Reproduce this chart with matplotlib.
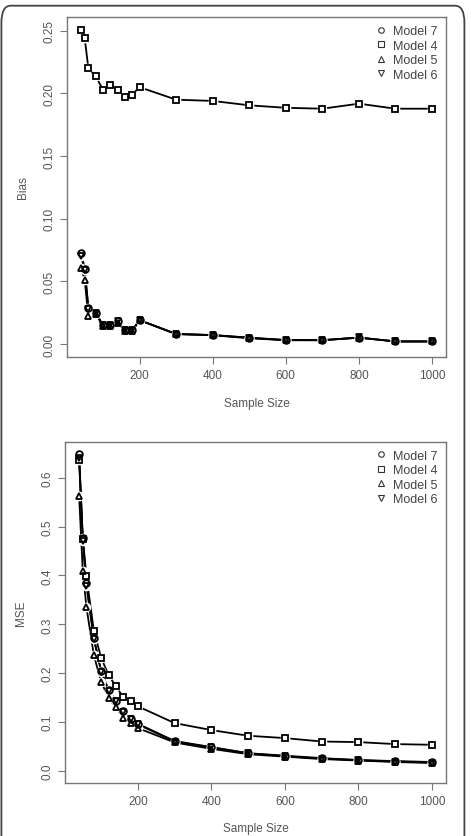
import matplotlib
matplotlib.use("Agg")
import matplotlib.pyplot as plt
from matplotlib.patches import FancyBboxPatch

plt.rcParams['font.family'] = ['Liberation Sans', 'DejaVu Sans']

# sample sizes shared by both panels
sample_size = [40, 50, 60, 80, 100, 120, 140, 160, 180, 200,
               300, 400, 500, 600, 700, 800, 900, 1000]

# Bias
bias_m7 = [0.073, 0.060, 0.029, 0.025, 0.015, 0.015, 0.018, 0.011, 0.011, 0.019,
           0.008, 0.007, 0.005, 0.003, 0.003, 0.005, 0.002, 0.002]
bias_m4 = [0.251, 0.244, 0.220, 0.2136, 0.203, 0.2064, 0.203, 0.197, 0.199, 0.205,
           0.195, 0.194, 0.1905, 0.1885, 0.1878, 0.1918, 0.1878, 0.1878]
bias_m5 = [0.061, 0.051, 0.022, 0.024, 0.014, 0.014, 0.017, 0.010, 0.010, 0.019,
           0.008, 0.007, 0.0045, 0.003, 0.003, 0.005, 0.002, 0.002]
bias_m6 = [0.070, 0.059, 0.028, 0.025, 0.015, 0.015, 0.018, 0.011, 0.011, 0.019,
           0.0078, 0.0072, 0.005, 0.0032, 0.003, 0.0052, 0.002, 0.002]

# MSE
mse_m7 = [0.648, 0.476, 0.385, 0.272, 0.205, 0.166, 0.1435, 0.1217, 0.107, 0.0963,
          0.061, 0.0486, 0.036, 0.031, 0.026, 0.022, 0.020, 0.018]
mse_m4 = [0.637, 0.475, 0.398, 0.287, 0.2316, 0.196, 0.173, 0.151, 0.142, 0.132,
          0.0977, 0.0834, 0.0718, 0.067, 0.060, 0.0588, 0.0547, 0.0533]
mse_m5 = [0.5635, 0.4086, 0.335, 0.237, 0.182, 0.1496, 0.130, 0.109, 0.0977, 0.0875,
          0.058, 0.045, 0.034, 0.029, 0.024, 0.021, 0.018, 0.016]
mse_m6 = [0.640, 0.471, 0.379, 0.270, 0.203, 0.164, 0.142, 0.120, 0.106, 0.095,
          0.060, 0.048, 0.036, 0.030, 0.025, 0.022, 0.019, 0.017]

labels = ['Model 7', 'Model 4', 'Model 5', 'Model 6']
markers = ['o', 's', '^', 'v']
gray = '#555555'

fig = plt.figure(figsize=(4.71, 8.37), dpi=100)

ax1 = fig.add_axes([0.1423, 0.5723, 0.8047, 0.4062])
ax2 = fig.add_axes([0.138, 0.0633, 0.809, 0.4078])


def draw(ax, series):
    # lines first, then white blobs to open gaps (R type="b"), then markers
    for vals in series:
        ax.plot(sample_size, vals, color='black', lw=1.3, zorder=1)
    for vals in series:
        ax.plot(sample_size, vals, ls='none', marker='o', ms=7,
                mfc='white', mec='none', zorder=2)
    for vals, m, lab in zip(series, markers, labels):
        ax.plot(sample_size, vals, ls='none', marker=m, ms=4.8,
                mfc='none', mec='black', mew=1.3, zorder=3, label=lab)
    leg_handles = [plt.Line2D([], [], ls='none', marker=m, ms=4, mfc='none',
                              mec='#333333', mew=0.8) for m in markers]
    ax.legend(leg_handles, labels, loc='upper right', frameon=False,
              fontsize=9, handletextpad=0.5, labelspacing=0.2,
              handlelength=1.0, borderaxespad=0.25, labelcolor='#444444')
    ax.set_xlim(1.6, 1038.4)
    ax.set_xticks([200, 400, 600, 800, 1000])
    for s in ax.spines.values():
        s.set_color('#777777')
        s.set_linewidth(1.0)
    ax.tick_params(colors='#777777', labelcolor=gray, labelsize=8.5,
                   length=5, width=0.8, direction='out')
    ax.set_xlabel('Sample Size', color=gray, fontsize=8.5, labelpad=12)


draw(ax1, [bias_m7, bias_m4, bias_m5, bias_m6])
ax1.set_ylim(-0.0104, 0.261)
ax1.set_yticks([0.0, 0.05, 0.10, 0.15, 0.20, 0.25])
ax1.set_yticklabels(['0.00', '0.05', '0.10', '0.15', '0.20', '0.25'],
                    rotation=90, va='center')
ax1.set_ylabel('Bias', color=gray, fontsize=8.5, labelpad=10)

draw(ax2, [mse_m7, mse_m4, mse_m5, mse_m6])
ax2.set_ylim(-0.025, 0.674)
ax2.set_yticks([0.0, 0.1, 0.2, 0.3, 0.4, 0.5, 0.6])
ax2.set_yticklabels(['0.0', '0.1', '0.2', '0.3', '0.4', '0.5', '0.6'],
                    rotation=90, va='center')
ax2.set_ylabel('MSE', color=gray, fontsize=8.5, labelpad=10)
ax2.xaxis.labelpad = 11

# rounded frame around the whole figure
frame = FancyBboxPatch((0.003, -0.02), 0.983, 1.012,
                       boxstyle='round,pad=0,rounding_size=0.02',
                       transform=fig.transFigure, fill=False,
                       ec='#444444', lw=1.3)
fig.patches.append(frame)

fig.savefig('out.png', dpi=100)
